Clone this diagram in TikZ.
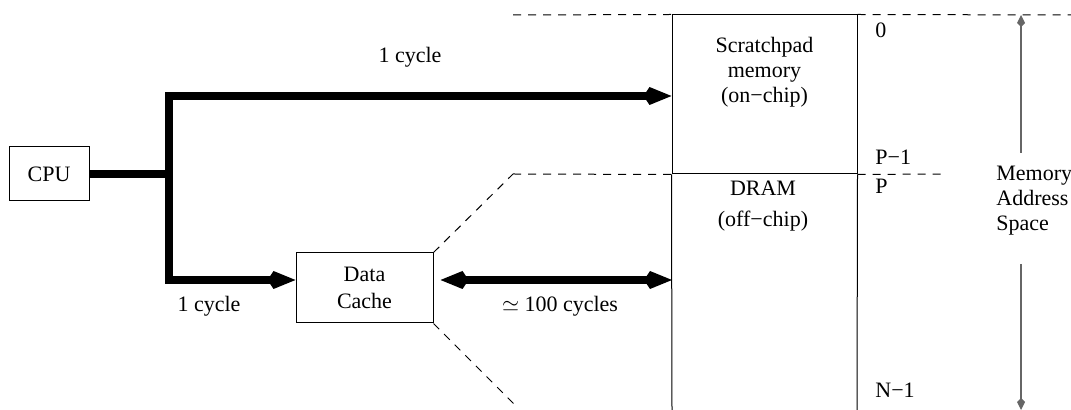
\documentclass[tikz,border=0pt]{standalone}
\usepackage{fontspec}
\setmainfont{Liberation Serif}
\usetikzlibrary{arrows.meta, positioning}

\tikzset{
  every node/.style={font=\fontsize{11}{12.5}\selectfont},
  unit/.style={draw, line width=0.5pt, align=center, inner sep=0pt},
  memblock/.style={draw, line width=0.5pt, minimum width=92.5pt, minimum height=79.5pt, inner sep=0pt},
  bus/.style={line width=4pt},
  bustip/.style={{Kite[length=14pt,width=9pt,inset=3pt]}-{Kite[length=14pt,width=9pt,inset=3pt]}},
  guide/.style={line width=0.5pt, dash pattern=on 4pt off 3.5pt},
  addr/.style={line width=0.6pt, black!60, -{Kite[length=6pt,width=4pt,inset=2pt]}},
  addrlabel/.style={anchor=west, inner sep=0pt}
}

\begin{document}
\begin{tikzpicture}[x=0.5pt, y=-0.5pt]
  \useasboundingbox (0,0) rectangle (1071,410);

  \node[unit, minimum width=40pt, minimum height=27pt] (cpu) at (49,174) {CPU};
  \node[unit, minimum width=68.5pt, minimum height=35pt] (cache) at (364.5,288) {Data\\[1pt]Cache};
  \node[memblock] (spm) at (764.5,94.5) {};
  \node[align=center, below=8pt of spm.north] (spmtext) {Scratchpad\\memory\\(on−chip)};
  \node[align=center] (dramtext) at (763,206) {DRAM\\[3pt](off−chip)};

  \coordinate (ctop) at (169,96);
  \coordinate (cbot) at (169,280);
  \coordinate (dramw) at (672,280);
  \coordinate (dramsw) at (672,410);
  \coordinate (dramse) at (857,410);

  % dram block, open at the bottom
  \draw[line width=0.5pt] (spm.south west) -- (dramsw);
  \draw[line width=0.5pt] (spm.south east) -- (dramse);

  % buses
  \draw[bus] (cpu.east) -- (cpu.east -| ctop);
  \draw[bus, bustip] (cache.west |- cbot) -- (cbot) -- (ctop) -- (spm.west |- ctop);
  \draw[bus, bustip] ([xshift=3.5pt]cache.east |- dramw) -- (dramw);

  \node at (410,57) {1 cycle};
  \node at (209,306) {1 cycle};
  \node at (560,306) {$\simeq$ 100 cycles};

  % address boundaries
  \draw[guide] (513,15) -- (spm.north west);
  \draw[guide] (spm.north east) -- (1071,15);
  \draw[guide] (513,174) -- (spm.south west);
  \draw[guide] (spm.south east) -- (942,174);
  \draw[guide] (cache.north east) -- (513,174);
  \draw[guide] (cache.south east) -- (518,408);

  \node[addrlabel] (a0) at (875,30) {0};
  \node[addrlabel] (ap1) at (875,157) {P−1};
  \node[addrlabel] (ap) at (875,186) {P};
  \node[addrlabel] (an1) at (875,390) {N−1};

  % address space extent
  \node[align=left, anchor=west, inner sep=0pt] (space) at (996,201) {Memory\\Address\\Space};
  \coordinate (astop) at (1021,15);
  \coordinate (asbot) at (1021,410);
  \draw[addr] (1021,153) -- (astop);
  \draw[addr] (1021,264) -- (asbot);
\end{tikzpicture}
\end{document}
